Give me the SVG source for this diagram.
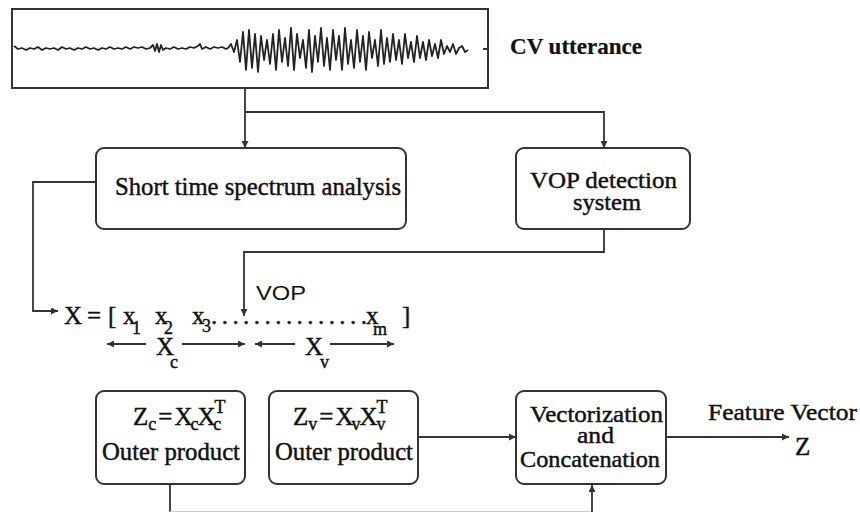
<svg xmlns="http://www.w3.org/2000/svg" width="860" height="512" viewBox="0 0 860 512">
<style>
.box{fill:#fff;stroke:#333;stroke-width:2}
.ln{fill:none;stroke:#333;stroke-width:1.8}
.t{font-family:"Liberation Serif","DejaVu Serif",serif;fill:#111;stroke:#111;stroke-width:0.45}
.b{font-weight:bold;stroke-width:0.2}
.s{font-family:"Liberation Sans","DejaVu Sans",sans-serif;fill:#111}
.sub{font-size:18px}
</style>
<defs>
<marker id="ah" viewBox="0 0 10 10" refX="10" refY="5" markerWidth="11" markerHeight="7" markerUnits="userSpaceOnUse" orient="auto">
<path d="M0,0 L10,5 L0,10 Z" fill="#333"/>
</marker>
</defs>
<rect width="860" height="512" fill="#fff"/>

<g id="waveform">
<rect x="12" y="9" width="476" height="79" fill="#fff" stroke="#333" stroke-width="2"/>
<polyline fill="none" stroke="#222" stroke-width="1.8" stroke-linejoin="round" points="14,46 18,49 22,48 26,50 30,48 34,49 38,47 42,50 46,48 50,49 54,48 58,50 62,47 66,49 70,48 74,50 78,48 82,49 86,47 90,49 94,48 98,50 102,48 106,49 110,47 114,49 118,48 122,49 126,47 130,49 134,47 138,48 142,47 146,49 150,48 153,45 155,51 157,44 159,52 161,45 163,50 166,48 170,49 174,47 178,49 182,48 186,49 190,47 194,48 198,46 200,44 202,49 206,47 210,49 214,47 218,48 222,47 226,49 228,48 231,44 234,52 237,40 240,62 243,32 246,70 249,30 252,68 255,34 258,72 261,36 264,60 267,40 270,64 273,34 276,70 279,30 282,62 285,38 288,66 291,28 294,70 297,34 300,58 303,40 306,68 309,30 312,72 315,36 318,62 321,28 324,66 327,38 330,70 333,30 336,60 339,36 342,70 345,28 348,64 351,40 354,68 357,30 360,62 363,36 366,70 369,32 372,58 375,40 378,66 381,30 384,64 387,38 390,62 393,34 396,60 399,40 402,64 405,34 408,58 411,42 414,62 417,36 420,58 423,42 426,60 429,40 432,56 435,44 438,58 441,40 444,54 447,46 450,52 453,44 456,54 459,48 462,46 465,52 468,50"/>
<line x1="483" y1="49" x2="488" y2="49" stroke="#333" stroke-width="2"/>
</g>

<g id="cv-label"><text class="t b" x="510" y="54" style="font-size:23px" textLength="132" lengthAdjust="spacingAndGlyphs">CV utterance</text></g>

<g id="short-time">
<rect class="box" x="96" y="148" width="310" height="81" rx="8"/>
<text class="t" x="115" y="195" style="font-size:26px" textLength="286" lengthAdjust="spacingAndGlyphs">Short time spectrum analysis</text>
</g>

<g id="vop-detect">
<rect class="box" x="516" y="148" width="174" height="81" rx="8"/>
<text class="t" x="530" y="188" style="font-size:24px" textLength="147" lengthAdjust="spacingAndGlyphs">VOP detection</text>
<text class="t" x="573" y="210" style="font-size:24px" textLength="68" lengthAdjust="spacingAndGlyphs">system</text>
</g>

<g id="vector-x">
<text class="s" x="256" y="300" style="font-size:21px" textLength="50" lengthAdjust="spacingAndGlyphs">VOP</text>
<text class="t" x="64" y="324" style="font-size:25px">X</text>
<text class="t" x="87" y="324" style="font-size:25px">=</text>
<text class="t" x="108" y="324" style="font-size:25px">[</text>
<text class="t" x="123" y="324" style="font-size:25px">x</text><text class="t sub" x="132" y="334">1</text>
<text class="t" x="155" y="324" style="font-size:25px">x</text><text class="t sub" x="164" y="334">2</text>
<text class="t" x="192" y="324" style="font-size:25px">x</text><text class="t sub" x="202" y="332">3</text>
<text class="t" x="211" y="324" style="font-size:25px" textLength="156" lengthAdjust="spacing">. . . . . . . . . . . . . . .</text>
<text class="t" x="366" y="324" style="font-size:25px">x</text><text class="t sub" x="373" y="335">m</text>
<text class="t" x="402" y="324" style="font-size:25px">]</text>
<text class="t" x="156" y="355" style="font-size:25px">X</text><text class="t sub" x="170" y="368">c</text>
<text class="t" x="305" y="355" style="font-size:25px">X</text><text class="t sub" x="320" y="368">v</text>
</g>

<g id="zc-box">
<rect class="box" x="96" y="391" width="149" height="93" rx="8"/>
<text class="t" x="133" y="425" style="font-size:25px">Z<tspan class="sub" dy="5">c</tspan><tspan dx="2" dy="-5">=</tspan><tspan dx="2">X</tspan><tspan class="sub" dx="-2" dy="5">c</tspan><tspan dx="-1" dy="-5">X</tspan><tspan class="sub" dx="-1" dy="-12">T</tspan><tspan class="sub" dx="-11" dy="17">c</tspan></text>
<text class="t" x="102" y="460" style="font-size:25px" textLength="138" lengthAdjust="spacingAndGlyphs">Outer product</text>
</g>

<g id="zv-box">
<rect class="box" x="269" y="391" width="149" height="93" rx="8"/>
<text class="t" x="293" y="425" style="font-size:25px">Z<tspan class="sub" dy="5">v</tspan><tspan dx="2" dy="-5">=</tspan><tspan dx="2">X</tspan><tspan class="sub" dx="-2" dy="5">v</tspan><tspan dx="-1" dy="-5">X</tspan><tspan class="sub" dx="-1" dy="-12">T</tspan><tspan class="sub" dx="-11" dy="17">v</tspan></text>
<text class="t" x="275" y="460" style="font-size:25px" textLength="138" lengthAdjust="spacingAndGlyphs">Outer product</text>
</g>

<g id="vect-box">
<rect class="box" x="516" y="391" width="150" height="93" rx="8"/>
<text class="t" x="530" y="422" style="font-size:23px" textLength="133" lengthAdjust="spacingAndGlyphs">Vectorization</text>
<text class="t" x="577" y="443" style="font-size:23px" textLength="37" lengthAdjust="spacingAndGlyphs">and</text>
<text class="t" x="520" y="467" style="font-size:23px" textLength="140" lengthAdjust="spacingAndGlyphs">Concatenation</text>
</g>

<g id="output">
<text class="t" x="708" y="420" style="font-size:24px" textLength="149" lengthAdjust="spacingAndGlyphs">Feature Vector</text>
<text class="t" x="795" y="455" style="font-size:25px">Z</text>
</g>

<g id="connectors">
<path class="ln" d="M245,88 V148" marker-end="url(#ah)"/>
<path class="ln" d="M245,112 H604 V148" marker-end="url(#ah)"/>
<path class="ln" d="M96,182 H33 V311 H58" marker-end="url(#ah)"/>
<path class="ln" d="M604,229 V252 H244 V316" marker-end="url(#ah)"/>
<path class="ln" d="M146,344 H107" marker-end="url(#ah)"/>
<path class="ln" d="M182,344 H245" marker-end="url(#ah)"/>
<path class="ln" d="M295,344 H255" marker-end="url(#ah)"/>
<path class="ln" d="M330,344 H394" marker-end="url(#ah)"/>
<path class="ln" d="M418,437 H516" marker-end="url(#ah)"/>
<path class="ln" d="M666,437 H789" marker-end="url(#ah)"/>
<path class="ln" d="M170,484 V512"/>
<path fill="none" stroke="#ccc" stroke-width="1" d="M170,511.5 H592"/>
<path class="ln" d="M592,512 V485" marker-end="url(#ah)"/>
</g>
</svg>
